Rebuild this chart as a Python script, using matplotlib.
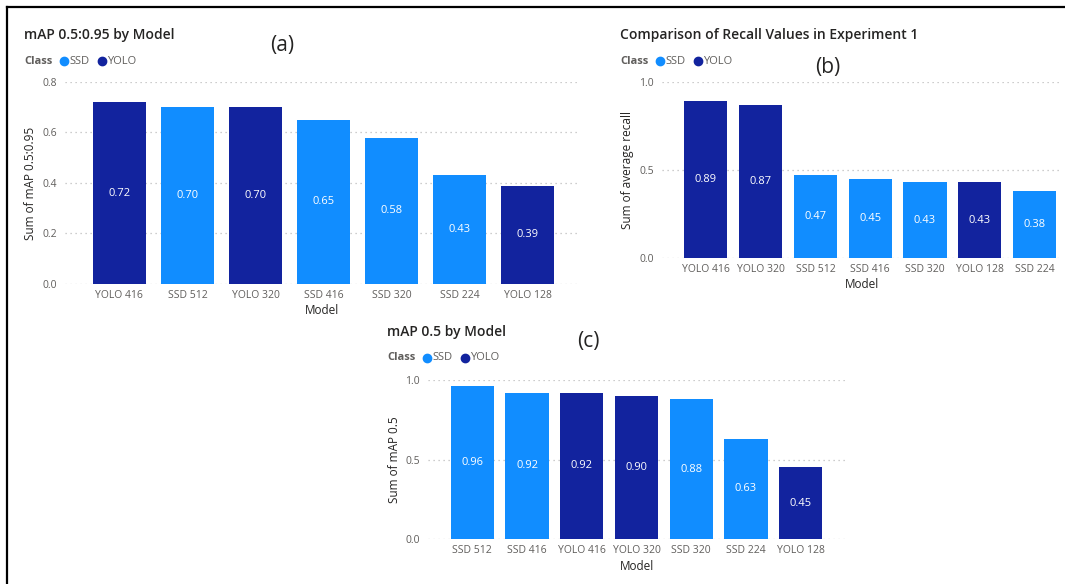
import matplotlib
matplotlib.use("Agg")
import matplotlib.pyplot as plt
from matplotlib.lines import Line2D

W, H = 1065, 584
plt.rcParams['font.family'] = ['Open Sans', 'DejaVu Sans']

SSD_C = "#118DFF"
YOLO_C = "#12239E"

# (a) mAP 0.5:0.95
a_models = ["YOLO 416", "SSD 512", "YOLO 320", "SSD 416", "SSD 320", "SSD 224", "YOLO 128"]
a_values = [0.72, 0.70, 0.70, 0.65, 0.58, 0.43, 0.39]
a_ticks = [0.0, 0.2, 0.4, 0.6, 0.8]

# (b) Recall
b_models = ["YOLO 416", "YOLO 320", "SSD 512", "SSD 416", "SSD 320", "YOLO 128", "SSD 224"]
b_values = [0.89, 0.87, 0.47, 0.45, 0.43, 0.43, 0.38]
b_ticks = [0.0, 0.5, 1.0]

# (c) mAP 0.5
c_models = ["SSD 512", "SSD 416", "YOLO 416", "YOLO 320", "SSD 320", "SSD 224", "YOLO 128"]
c_values = [0.96, 0.92, 0.92, 0.90, 0.88, 0.63, 0.45]
c_ticks = [0.0, 0.5, 1.0]

fig = plt.figure(figsize=(W / 100, H / 100), dpi=100)
fig.patch.set_facecolor("white")


def px_rect(l, t, r, b):
    return [l / W, 1 - b / H, (r - l) / W, (b - t) / H]


def fx(x):
    return x / W


def fy(y):
    return 1 - y / H


def panel(rect, models, values, ticks, xlim, width, ylabel, title, tpos, tag, tagpos,
          ylab_x, model_y):
    ax = fig.add_axes(px_rect(*rect))
    colors = [YOLO_C if m.startswith("YOLO") else SSD_C for m in models]
    xs = list(range(len(models)))
    ax.bar(xs, values, width=width, color=colors, zorder=3)
    for x, v in zip(xs, values):
        ax.text(x, v / 2, f"{v:.2f}", ha="center", va="center", color="white",
                fontsize=8, zorder=4)
    ax.set_xlim(*xlim)
    ax.set_ylim(ticks[0], ticks[-1])
    ax.set_yticks(ticks)
    ax.set_yticklabels([f"{t:.1f}" for t in ticks])
    ax.set_xticks(xs)
    ax.set_xticklabels(models)
    for s in ax.spines.values():
        s.set_visible(False)
    ax.tick_params(axis="both", length=0, labelsize=7.5, colors="#605E5C")
    ax.tick_params(axis="y", pad=6)
    ax.tick_params(axis="x", pad=4)
    ax.yaxis.grid(True, linestyle=(0, (1, 3)), color="#BDBDBD", linewidth=0.9, zorder=0)
    ax.set_axisbelow(True)
    ax.patch.set_alpha(0)
    # y label
    cy = (rect[1] + rect[3]) / 2
    fig.text(fx(ylab_x), fy(cy), ylabel, rotation=90, ha="center", va="center",
             fontsize=8.5, color="#252423")
    fig.text(fx((rect[0] + rect[2]) / 2 + 0), fy(model_y), "Model", ha="center",
             va="center", fontsize=8.5, color="#252423")
    # title
    fig.text(fx(tpos[0]), fy(tpos[1]), title, ha="left", va="center",
             fontsize=10, color="#252423", fontweight="semibold")
    # legend
    lx, ly = tpos[0], tpos[1] + 26
    fig.text(fx(lx), fy(ly), "Class", ha="left", va="center", fontsize=8,
             color="#605E5C", fontweight="bold")
    fig.add_artist(Line2D([fx(lx + 40)], [fy(ly)], marker="o", markersize=6,
                          color=SSD_C, linestyle="none"))
    fig.text(fx(lx + 45), fy(ly), "SSD", ha="left", va="center", fontsize=8,
             color="#605E5C")
    fig.add_artist(Line2D([fx(lx + 78)], [fy(ly)], marker="o", markersize=6,
                          color=YOLO_C, linestyle="none"))
    fig.text(fx(lx + 83), fy(ly), "YOLO", ha="left", va="center", fontsize=8,
             color="#605E5C")
    fig.text(fx(tagpos[0]), fy(tagpos[1]), tag, ha="center", va="center",
             fontsize=15, color="#252423")
    return ax


panel((65, 82, 580, 284), a_models, a_values, a_ticks, (-0.8, 6.77), 0.78,
      "Sum of mAP 0.5:0.95", "mAP 0.5:0.95 by Model", (24, 35), "(a)", (282, 45),
      30, 311)
panel((662, 82, 1062, 258), b_models, b_values, b_ticks, (-0.8, 6.5), 0.79,
      "Sum of average recall", "Comparison of Recall Values in Experiment 1",
      (620, 35), "(b)", (828, 67), 628, 285)
panel((428, 380, 845, 539), c_models, c_values, c_ticks, (-0.81, 6.81), 0.79,
      "Sum of mAP 0.5", "mAP 0.5 by Model", (387, 332), "(c)", (588, 342),
      395, 566)

# frame border (top and left)
fig.add_artist(Line2D([fx(7), fx(7)], [fy(7), 0], color="black", linewidth=1.6))
fig.add_artist(Line2D([fx(7), 1], [fy(7), fy(7)], color="black", linewidth=1.6))

fig.savefig("out.png", dpi=100, facecolor="white")
